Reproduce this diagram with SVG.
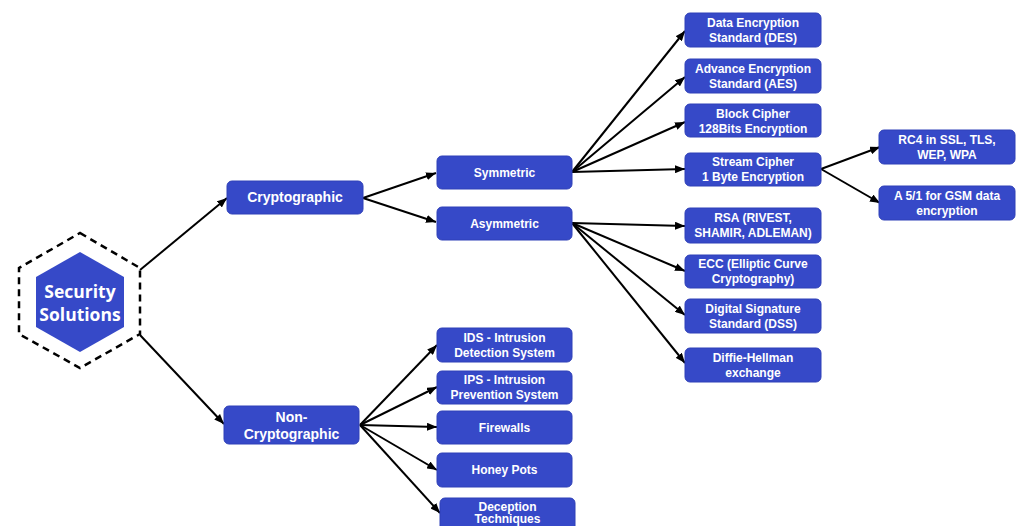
<svg xmlns="http://www.w3.org/2000/svg" width="1017" height="526" viewBox="0 0 1017 526">
<defs>
<style>
.box{fill:#3649c8;stroke:#2f40b8;stroke-width:1}
.t{font-family:"Liberation Sans",Arial,sans-serif;font-weight:bold;font-size:12px;fill:#fff;text-anchor:middle}
.t14{font-size:14px}
.hx{font-family:"Open Sans","Noto Sans",sans-serif;font-weight:bold;font-size:17.5px;fill:#fff;text-anchor:middle}
.c{stroke:#000;stroke-width:2;fill:none;marker-end:url(#ah)}
</style>
<marker id="ah" viewBox="0 0 10 8" refX="10" refY="4" markerWidth="10" markerHeight="8" markerUnits="userSpaceOnUse" orient="auto">
<path d="M0,0 L10,4 L0,8 z" fill="#000"/>
</marker>
</defs>
<rect width="1017" height="526" fill="#fff"/>

<g id="connectors">
<line class="c" x1="140" y1="270" x2="227" y2="198"/>
<line class="c" x1="140" y1="335" x2="224" y2="424"/>
<line class="c" x1="363" y1="198" x2="436" y2="173"/>
<line class="c" x1="363" y1="198" x2="436" y2="222"/>
<line class="c" x1="572" y1="172" x2="685" y2="31"/>
<line class="c" x1="572" y1="172" x2="685" y2="77"/>
<line class="c" x1="572" y1="172" x2="685" y2="122"/>
<line class="c" x1="572" y1="172" x2="685" y2="169"/>
<line class="c" x1="821" y1="169" x2="880" y2="147"/>
<line class="c" x1="821" y1="169" x2="880" y2="203"/>
<line class="c" x1="572" y1="223" x2="685" y2="226"/>
<line class="c" x1="572" y1="223" x2="685" y2="271"/>
<line class="c" x1="572" y1="223" x2="685" y2="315"/>
<line class="c" x1="572" y1="223" x2="685" y2="363"/>
<line class="c" x1="360" y1="425" x2="437" y2="345"/>
<line class="c" x1="360" y1="425" x2="437" y2="387"/>
<line class="c" x1="360" y1="425" x2="437" y2="427"/>
<line class="c" x1="360" y1="425" x2="437" y2="470"/>
<line class="c" x1="360" y1="425" x2="440" y2="513"/>
</g>

<g id="security-solutions">
<polygon points="80,233 140,268 140,334 80,368 19,334 19,268" fill="none" stroke="#000" stroke-width="2.5" stroke-dasharray="7,5"/>
<polygon points="80,252 124,277 124,327 80,352 36,327 36,277" fill="#3649c8"/>
<text class="hx" x="80" y="298">Security</text>
<text class="hx" x="80" y="321">Solutions</text>
</g>

<g id="cryptographic">
<rect class="box" x="227" y="181" width="136" height="33" rx="5"/>
<text class="t t14" x="295" y="202">Cryptographic</text>
</g>
<g id="non-cryptographic">
<rect class="box" x="224" y="406" width="135" height="38" rx="5"/>
<text class="t t14" x="291.5" y="422">Non-</text>
<text class="t t14" x="291.5" y="439">Cryptographic</text>
</g>

<g id="symmetric">
<rect class="box" x="437" y="156" width="135" height="33" rx="5"/>
<text class="t" x="504.5" y="177">Symmetric</text>
</g>
<g id="asymmetric">
<rect class="box" x="437" y="207" width="135" height="33" rx="5"/>
<text class="t" x="504.5" y="228">Asymmetric</text>
</g>

<g id="des">
<rect class="box" x="685" y="13" width="136" height="34" rx="5"/>
<text class="t" x="753" y="27">Data Encryption</text>
<text class="t" x="753" y="42">Standard (DES)</text>
</g>
<g id="aes">
<rect class="box" x="685" y="59" width="136" height="34" rx="5"/>
<text class="t" x="753" y="73">Advance Encryption</text>
<text class="t" x="753" y="88">Standard (AES)</text>
</g>
<g id="block-cipher">
<rect class="box" x="685" y="104" width="136" height="33" rx="5"/>
<text class="t" x="753" y="117.5">Block Cipher</text>
<text class="t" x="753" y="132.5">128Bits Encryption</text>
</g>
<g id="stream-cipher">
<rect class="box" x="685" y="153" width="136" height="33" rx="5"/>
<text class="t" x="753" y="166">Stream Cipher</text>
<text class="t" x="753" y="181">1 Byte Encryption</text>
</g>

<g id="rc4">
<rect class="box" x="879" y="130" width="136" height="34" rx="5"/>
<text class="t" x="947" y="144">RC4 in SSL, TLS,</text>
<text class="t" x="947" y="159">WEP, WPA</text>
</g>
<g id="a51">
<rect class="box" x="879" y="186" width="136" height="34" rx="5"/>
<text class="t" x="947" y="200">A 5/1 for GSM data</text>
<text class="t" x="947" y="215">encryption</text>
</g>

<g id="rsa">
<rect class="box" x="685" y="208" width="136" height="35" rx="5"/>
<text class="t" x="753" y="222">RSA (RIVEST,</text>
<text class="t" x="753" y="237">SHAMIR, ADLEMAN)</text>
</g>
<g id="ecc">
<rect class="box" x="685" y="255" width="136" height="33" rx="5"/>
<text class="t" x="753" y="268">ECC (Elliptic Curve</text>
<text class="t" x="753" y="283">Cryptography)</text>
</g>
<g id="dss">
<rect class="box" x="685" y="299" width="136" height="34" rx="5"/>
<text class="t" x="753" y="313">Digital Signature</text>
<text class="t" x="753" y="328">Standard (DSS)</text>
</g>
<g id="diffie-hellman">
<rect class="box" x="685" y="348" width="136" height="34" rx="5"/>
<text class="t" x="753" y="362">Diffie-Hellman</text>
<text class="t" x="753" y="377">exchange</text>
</g>

<g id="ids">
<rect class="box" x="437" y="328" width="135" height="34" rx="5"/>
<text class="t" x="504.5" y="342">IDS - Intrusion</text>
<text class="t" x="504.5" y="357">Detection System</text>
</g>
<g id="ips">
<rect class="box" x="437" y="371" width="135" height="33" rx="5"/>
<text class="t" x="504.5" y="384">IPS - Intrusion</text>
<text class="t" x="504.5" y="399">Prevention System</text>
</g>
<g id="firewalls">
<rect class="box" x="437" y="411" width="135" height="33" rx="5"/>
<text class="t" x="504.5" y="432">Firewalls</text>
</g>
<g id="honey-pots">
<rect class="box" x="437" y="453" width="135" height="34" rx="5"/>
<text class="t" x="504.5" y="474">Honey Pots</text>
</g>
<g id="deception">
<rect class="box" x="440" y="498" width="135" height="36" rx="5"/>
<text class="t" x="507.5" y="510.5">Deception</text>
<text class="t" x="507.5" y="522.5">Techniques</text>
</g>
</svg>
